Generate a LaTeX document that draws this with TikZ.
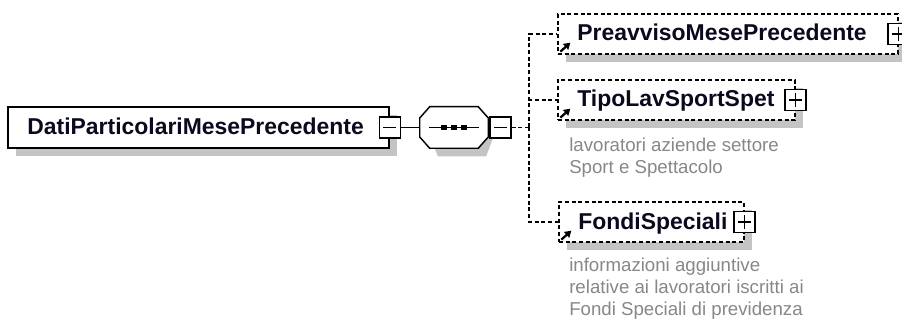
\documentclass[tikz,border=0pt]{standalone}
\usepackage{fontspec}
\setmainfont{Liberation Sans}
\usetikzlibrary{arrows.meta,shadows}
\definecolor{shd}{RGB}{196,196,196}
\definecolor{descgray}{RGB}{135,135,135}
\definecolor{namecol}{RGB}{10,10,30}
\begin{document}
\begin{tikzpicture}[x=0.75pt,y=-0.75pt,
  shad/.style={drop shadow={shadow xshift=6pt, shadow yshift=-6pt, fill=shd, opacity=1}},
  namefont/.style={font=\fontsize{17.2}{20}\selectfont\bfseries},
  elbox/.style={draw, line width=1.1pt, fill=white, shad, namefont, text=namecol,
     inner xsep=14.5pt, inner ysep=0pt, align=left, text height=13pt, text depth=2.5pt},
  optbox/.style={elbox, line width=0.95pt, dash pattern=on 3pt off 2pt, minimum height=30pt},
  smallbox/.style={draw, line width=1.1pt, fill=white, minimum size=15.75pt, inner sep=0pt},
  minusbox/.style={smallbox, path picture={
     \draw[line width=1.1pt] ([xshift=-5pt]path picture bounding box.center) -- ([xshift=5pt]path picture bounding box.center);}},
  plusbox/.style={smallbox, path picture={
     \draw[line width=1.1pt] ([xshift=-5pt]path picture bounding box.center) -- ([xshift=5pt]path picture bounding box.center);
     \draw[line width=1.1pt] ([yshift=-5pt]path picture bounding box.center) -- ([yshift=5pt]path picture bounding box.center);}},
  seqanchor/.style={minimum width=51pt, minimum height=30.75pt, inner sep=0pt},
  octline/.style={line width=1.1pt},
  conn/.style={line width=0.95pt, dash pattern=on 3pt off 2pt},
  solidconn/.style={line width=1.1pt},
  refarrow/.style={line width=1.7pt, -{Triangle[length=4.8pt,width=5.6pt]}},
  desc/.style={text=descgray, font=\fontsize{14}{16.3}\selectfont, align=left, inner sep=0pt}
]
\useasboundingbox (0,0) rectangle (902,320);

% main element
\node[elbox, minimum width=285.75pt, minimum height=30.75pt, text width=256.75pt] (main) at (198.5,127.5) {DatiParticolariMesePrecedente};
\node[minusbox] (mmin) at (main.east) {};

% sequence compositor (octagon)
\node[seqanchor] (seq) at (454,127.5) {};
\fill[shd] ([shift={(8,8)}]seq.west) -- ([shift={(8,-1.5)}]seq.west)
  -- ([shift={(18,8)}]seq.north west) -- ([shift={(-2,8)}]seq.north east)
  -- ([shift={(8,-1.5)}]seq.east) -- ([shift={(8,1.5)}]seq.east)
  -- ([shift={(-2,8)}]seq.south east) -- ([shift={(18,8)}]seq.south west)
  -- ([shift={(8,1.5)}]seq.west) -- cycle;
\draw[octline, fill=white] ([shift={(0,-9.5)}]seq.west) -- ([shift={(10,0)}]seq.north west)
  -- ([shift={(-10,0)}]seq.north east) -- ([shift={(0,-9.5)}]seq.east)
  -- ([shift={(0,9.5)}]seq.east) -- ([shift={(-10,0)}]seq.south east)
  -- ([shift={(10,0)}]seq.south west) -- ([shift={(0,9.5)}]seq.west) -- cycle;
\draw[line width=0.9pt] ([xshift=-18.75pt]seq.center) -- ([xshift=18.75pt]seq.center);
\foreach \dx in {-10,0,10}
  \fill ([shift={(\dx-2.75,-2.75)}]seq.center) rectangle ++(5.5,5.5);
\node[minusbox, anchor=west] (seqmin) at ([xshift=0.75pt]seq.east) {};

% child elements
\node[optbox, minimum width=255pt, text width=226pt] (prea) at (728,34) {PreavvisoMesePrecedente};
\node[plusbox] (preaplus) at (prea.east) {};
\node[optbox, minimum width=177.75pt, text width=148.75pt] (tipo) at (676.5,100) {TipoLavSportSpet};
\node[plusbox] (tipoplus) at (tipo.east) {};
\node[optbox, minimum width=138.75pt, text width=109.75pt] (fondi) at (651.5,222) {FondiSpeciali};
\node[plusbox] (fondiplus) at (fondi.east) {};

% reference arrows
\foreach \b in {prea,tipo,fondi}
  \draw[refarrow] ([shift={(3,-3)}]\b.south west) -- ++(10,-9);

% descriptions
\node[desc, anchor=north west] (tipodesc) at (569,138) {lavoratori aziende settore\\Sport e Spettacolo};
\node[desc, anchor=north west] (fondidesc) at (569,258) {informazioni aggiuntive\\relative ai lavoratori iscritti ai\\Fondi Speciali di previdenza};

% connectors
\coordinate (j) at (529,127.5);
\draw[solidconn] (mmin.east) -- (seq.west);
\draw[conn] (seqmin.east) -- (j);
\draw[conn] (j) |- (prea.west);
\draw[conn] (j) |- (tipo.west);
\draw[conn] (j) |- (fondi.west);
\end{tikzpicture}
\end{document}
